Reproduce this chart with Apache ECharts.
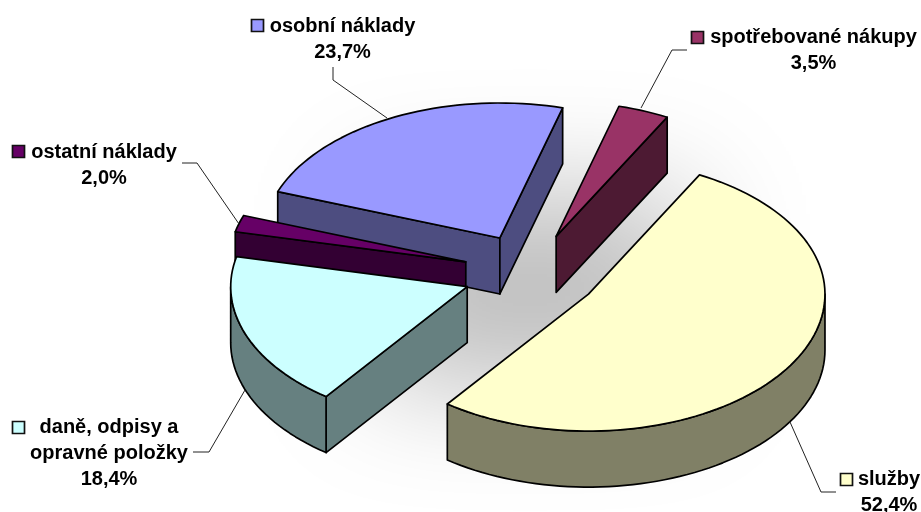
<!DOCTYPE html>
<html lang="cs">
<head>
    <meta charset="UTF-8">
    <title>Náklady</title>
    <script src="https://cdn.jsdelivr.net/npm/echarts@6/dist/echarts.min.js"></script>
    <style>
        html, body { margin: 0; background: #fff; }
        #main { width: 921px; height: 512px; }
    </style>
</head>
<body>
    <div id="main"></div>
    <script type="text/javascript">
        // data, clockwise from the top right
        var categories = ['služby', 'daně, odpisy a\nopravné položky', 'ostatní náklady', 'osobní náklady', 'spotřebované nákupy'];
        var shares = [52.4, 18.4, 2.0, 23.7, 3.5];
        var shareLabels = ['52,4%', '18,4%', '2,0%', '23,7%', '3,5%'];
        var topColors = ['#FFFFCC', '#CCFFFF', '#660066', '#9999FF', '#993366'];
        var wallColors = ['#808066', '#668080', '#330033', '#4D4D80', '#4D1A33'];
        // painting order, far slices first
        var paintOrder = [3, 4, 2, 1, 0];

        // pie projection, the far half is a little flatter than the near half
        var cx = 531, cy = 273, rx = 236.5, ry = 137, ryFar = 135, depth = 56, explode = 68, startDeg = 28;

        // label boxes: text centre x, first line centre y, key x, key y, leader points
        var labelLayout = [
            { x: 889, y: 479, kx: 840, ky: 473, leader: [[836, 492], [821, 492], [790, 422]] },
            { x: 109, y: 427, kx: 12, ky: 421, leader: [[193, 452], [209, 452], [245, 390]] },
            { x: 104, y: 152, kx: 12, ky: 145, leader: [[182, 163], [197, 163], [239, 224]] },
            { x: 342.5, y: 26, kx: 251, ky: 19, leader: [[333, 67], [333, 80], [387, 118]] },
            { x: 813.5, y: 37, kx: 691, ky: 31, leader: [[687, 50], [672, 50], [641, 108]] }
        ];

        function pt(c, deg, lift) {
            var t = deg * Math.PI / 180;
            var cos = Math.cos(t);
            return [c[0] + rx * Math.sin(t), c[1] - (cos > 0 ? ryFar : ry) * cos + (lift || 0)];
        }

        function arcPts(c, from, to, lift) {
            var list = [];
            var n = Math.max(2, Math.ceil((to - from) / 2));
            for (var i = 0; i <= n; i++) {
                list.push(pt(c, from + (to - from) * i / n, lift));
            }
            return list;
        }

        function face(points, fill) {
            return {
                type: 'polygon',
                shape: { points: points },
                style: { fill: fill, stroke: '#000', lineWidth: 1.7, lineJoin: 'round' }
            };
        }

        function sliceFaces(i) {
            var total = shares.reduce(function (a, b) { return a + b; }, 0);
            var from = startDeg;
            for (var k = 0; k < i; k++) from += shares[k] / total * 360;
            var to = from + shares[i] / total * 360;
            var mid = (from + to) / 2 * Math.PI / 180;
            var c = [cx + explode * Math.sin(mid), cy - explode * ry / rx * Math.cos(mid)];
            var out = [];

            // a cut wall is seen only when it turns towards the viewer
            [[from, -1], [to, 1]].forEach(function (edge) {
                if (edge[1] * Math.sin(edge[0] * Math.PI / 180) <= 0) return;
                var p = pt(c, edge[0]);
                out.push(face([c, p, [p[0], p[1] + depth], [c[0], c[1] + depth]], wallColors[i]));
            });

            // outer wall only where it faces the viewer
            var a = Math.max(from, 90), b = Math.min(to, 270);
            if (b > a) {
                var upper = arcPts(c, a, b, 0);
                var lower = arcPts(c, a, b, depth).reverse();
                out.push(face(upper.concat(lower), wallColors[i]));
            }

            out.push(face([c].concat(arcPts(c, from, to, 0)), topColors[i]));
            return out;
        }

        function labelParts(i) {
            var l = labelLayout[i];
            var lines = categories[i].split('\n').concat(shareLabels[i]);
            var out = [{
                type: 'polyline',
                shape: { points: l.leader },
                style: { fill: null, stroke: '#222', lineWidth: 1 }
            }, {
                type: 'rect',
                shape: { x: l.kx + 0.5, y: l.ky + 0.5, width: 12, height: 12 },
                style: { fill: topColors[i], stroke: '#111', lineWidth: 1.7 }
            }];
            lines.forEach(function (line, n) {
                out.push({
                    type: 'text',
                    style: {
                        x: l.x, y: l.y + n * 26, text: line,
                        fill: '#000', align: 'center', verticalAlign: 'middle',
                        font: 'bold 20px "Liberation Sans", Arial, sans-serif'
                    }
                });
            });
            return out;
        }

        var myChart = echarts.init(document.getElementById('main'), null, { renderer: 'canvas' });

        var option = {
            animation: false,
            backgroundColor: '#fff',
            series: [{
                type: 'custom',
                coordinateSystem: 'none',
                silent: true,
                data: [0],
                renderItem: function () {
                    // soft floor shadow behind the pie, the shape itself sits off canvas
                    var children = [{
                        type: 'rect',
                        shape: { x: 370 - 2000, y: 195, width: 320, height: 190 },
                        style: { fill: '#BEBEBE', shadowColor: '#BEBEBE', shadowBlur: 120, shadowOffsetX: 2000 }
                    }];
                    paintOrder.forEach(function (i) {
                        children = children.concat(sliceFaces(i));
                    });
                    paintOrder.forEach(function (i) {
                        children = children.concat(labelParts(i));
                    });
                    return { type: 'group', children: children };
                }
            }]
        };

        myChart.setOption(option);
    </script>
</body>
</html>
